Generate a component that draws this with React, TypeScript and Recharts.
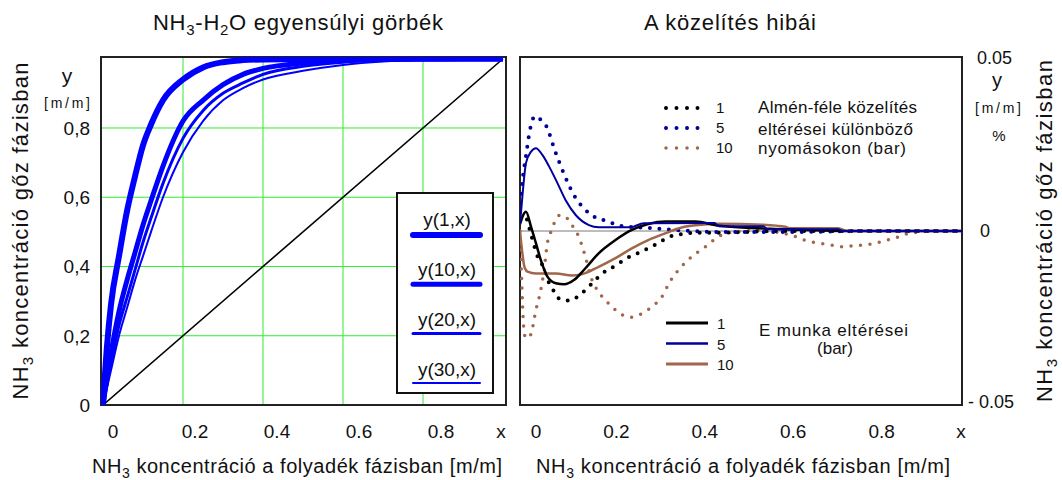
import React from 'react';
import {
  LineChart,
  Line,
  XAxis,
  YAxis,
  CartesianGrid,
  ReferenceArea,
  ReferenceLine,
} from 'recharts';

const FONT = '"Liberation Sans", Arial, Helvetica, sans-serif';
const INK = '#111';
const BLUE = '#0000ff';
const GREEN = '#2eee2e';
const NAVY = '#00009c';
const BROWN = '#a0674a';

// left chart: NH3-H2O equilibrium curves y(p, x) at 1, 10, 20, 30 bar
const eqX = [0, 0.01, 0.02, 0.04, 0.06, 0.08, 0.1, 0.12, 0.15, 0.2, 0.25, 0.3, 0.35, 0.4, 0.5, 0.6, 0.7, 0.8, 0.9, 1];
const eqP1 = [0, 0.17, 0.29, 0.43, 0.56, 0.66, 0.75, 0.81, 0.88, 0.94, 0.975, 0.99, 0.996, 0.998, 0.999, 1, 1, 1, 1, 1];
const eqP10 = [0, 0.08, 0.15, 0.27, 0.36, 0.44, 0.52, 0.59, 0.69, 0.82, 0.88, 0.925, 0.955, 0.972, 0.988, 0.995, 0.998, 0.999, 1, 1];
const eqP20 = [0, 0.06, 0.12, 0.23, 0.31, 0.39, 0.47, 0.54, 0.64, 0.77, 0.85, 0.9, 0.93, 0.955, 0.978, 0.99, 0.996, 0.998, 0.999, 1];
const eqP30 = [0, 0.05, 0.1, 0.2, 0.28, 0.36, 0.43, 0.5, 0.6, 0.73, 0.82, 0.88, 0.915, 0.94, 0.965, 0.982, 0.992, 0.997, 0.999, 1];
const diagX = [0, 1];
const diagY = [0, 1];
const eqTicks = [0, 0.2, 0.4, 0.6, 0.8];
const eqGrid = [0.2, 0.4, 0.6, 0.8];

// right chart: errors of the approximations (Almén dotted, "E munka" solid)
const almen1X = [0, 0.012, 0.025, 0.04, 0.047, 0.066, 0.079, 0.09, 0.109, 0.13, 0.144, 0.162, 0.186, 0.218, 0.242, 0.266, 0.298, 0.321, 0.339, 0.357, 0.377, 0.396, 0.437, 0.5, 0.6, 1];
const almen1Y = [0.003, 0.004, -0.001, -0.0074, -0.0088, -0.015, -0.0177, -0.0196, -0.02, -0.0189, -0.0174, -0.0152, -0.0122, -0.0098, -0.0078, -0.0064, -0.0045, -0.0028, -0.0016, -0.0011, -0.0007, -0.0005, -0.0005, -0.0003, 0, 0];

const almen5X = [0, 0.007, 0.014, 0.021, 0.034, 0.047, 0.062, 0.074, 0.081, 0.096, 0.107, 0.122, 0.141, 0.175, 0.193, 0.231, 0.276, 0.35, 0.45, 0.6, 0.8, 1];
const almen5Y = [0.008, 0.016, 0.022, 0.028, 0.033, 0.032, 0.0295, 0.025, 0.0224, 0.0175, 0.0142, 0.0103, 0.007, 0.0036, 0.003, 0.0014, 0.001, 0.0003, -0.0003, -0.0003, 0, 0];

const almen10X = [0, 0.004, 0.008, 0.012, 0.02, 0.028, 0.036, 0.042, 0.047, 0.051, 0.055, 0.058, 0.062, 0.07, 0.079, 0.091, 0.107, 0.122, 0.133, 0.141, 0.148, 0.16, 0.175, 0.193, 0.216, 0.231, 0.249, 0.276, 0.298, 0.321, 0.339, 0.362, 0.38, 0.403, 0.418, 0.433, 0.446, 0.467, 0.489, 0.512, 0.53, 0.553, 0.575, 0.594, 0.613, 0.629, 0.648, 0.667, 0.686, 0.708, 0.729, 0.751, 0.772, 0.793, 0.811, 0.83, 0.849, 0.864, 0.882, 0.905, 0.924, 1];
const almen10Y = [0, -0.015, -0.027, -0.0305, -0.0308, -0.028, -0.0227, -0.0198, -0.017, -0.0141, -0.0112, -0.0074, -0.0035, -0.0002, 0.0027, 0.0046, 0.0036, 0.0008, -0.0016, -0.0045, -0.0074, -0.0131, -0.017, -0.0198, -0.0227, -0.0241, -0.0248, -0.0237, -0.0218, -0.0189, -0.0146, -0.0107, -0.0083, -0.006, -0.0047, -0.0031, -0.0018, -0.0007, -0.0002, 0, 0.0003, 0, -0.0002, -0.0007, -0.0011, -0.0019, -0.0028, -0.0033, -0.0037, -0.0041, -0.0045, -0.0043, -0.0041, -0.0038, -0.0033, -0.0026, -0.0021, -0.0011, -0.0007, -0.0003, 0, 0];

const munka1X = [0, 0.0135, 0.025, 0.036, 0.047, 0.062, 0.081, 0.1, 0.122, 0.148, 0.178, 0.216, 0.253, 0.29, 0.33, 0.397, 0.45, 0.6, 0.75, 1];
const munka1Y = [0.002, 0.0055, 0.0012, -0.0035, -0.0083, -0.0131, -0.015, -0.0153, -0.0141, -0.0107, -0.0064, -0.0026, 0.0003, 0.002, 0.0027, 0.0027, 0.0015, 0.0005, 0, 0];

const munka5X = [0, 0.006, 0.0135, 0.025, 0.036, 0.051, 0.066, 0.085, 0.103, 0.126, 0.156, 0.178, 0.25, 0.28, 0.44, 0.45, 0.55, 0.56, 0.72, 0.73, 1];
const munka5Y = [0.002, 0.0108, 0.0195, 0.0228, 0.0238, 0.0218, 0.0185, 0.0137, 0.0089, 0.0046, 0.0017, 0.0011, 0.0011, 0.0022, 0.0023, 0.0014, 0.0014, 0.0005, 0.0005, 0, 0];

const munka10X = [0, 0.005, 0.01, 0.017, 0.036, 0.081, 0.118, 0.141, 0.178, 0.216, 0.253, 0.29, 0.328, 0.366, 0.403, 0.45, 0.55, 0.6, 0.61, 0.72, 0.74, 1];
const munka10Y = [0, -0.006, -0.0103, -0.0117, -0.0122, -0.0122, -0.0128, -0.0124, -0.0103, -0.0078, -0.005, -0.0026, -0.0007, 0.001, 0.0017, 0.0021, 0.0018, 0.0012, 0.0008, 0.0008, 0, 0];

const errTicks = [0, 0.2, 0.4, 0.6, 0.8];
const errInner = [0.2, 0.4, 0.6, 0.8];
const errYTicks = [-0.05, 0, 0.05];

const pts = (xs: number[], ys: number[]) => xs.map((x, i) => ({ x, y: ys[i] }));

const eqSeries = [
  { label: 'y(30,x)', ys: eqP30, width: 2 },
  { label: 'y(20,x)', ys: eqP20, width: 3 },
  { label: 'y(10,x)', ys: eqP10, width: 5 },
  { label: 'y(1,x)', ys: eqP1, width: 6 },
];

const almenSeries = [
  { label: '10', xs: almen10X, ys: almen10Y, color: BROWN, width: 3.5 },
  { label: '1', xs: almen1X, ys: almen1Y, color: '#000', width: 4 },
  { label: '5', xs: almen5X, ys: almen5Y, color: NAVY, width: 4 },
];
const munkaSeries = [
  { label: '10', xs: munka10X, ys: munka10Y, color: BROWN, width: 2.5 },
  { label: '1', xs: munka1X, ys: munka1Y, color: '#000', width: 2.5 },
  { label: '5', xs: munka5X, ys: munka5Y, color: NAVY, width: 2 },
];
const legendOrder = ['1', '5', '10'];
const DOTS = '0 9.5';

const txt = { fontFamily: FONT, fill: INK } as const;

export default function App() {
  return (
    <div style={{ position: 'absolute', left: 0, top: 0, width: 1062, height: 480, background: '#fff' }}>
      {/* equilibrium chart */}
      <div style={{ position: 'absolute', left: 0, top: 0 }}>
        <LineChart width={520} height={480} margin={{ top: 57, right: 14, bottom: 0, left: 0 }}>
          <XAxis xAxisId="g" dataKey="x" type="number" domain={[-0.005, 1.0075]} ticks={eqGrid} hide allowDataOverflow />
          <CartesianGrid xAxisId="g" stroke={GREEN} strokeWidth={1} />
          <XAxis
            dataKey="x"
            type="number"
            domain={[-0.005, 1.0075]}
            ticks={eqTicks}
            interval={0}
            height={75}
            allowDataOverflow
            axisLine={false}
            tickLine={false}
            tickSize={0}
            tickMargin={0}
            tick={({ x, y, payload }: any) => (
              <text x={x + 10 + payload.value * 10} y={y + 33} textAnchor="middle" fontSize={19} {...txt}>
                {payload.value === 0 ? '0' : payload.value.toFixed(1)}
              </text>
            )}
          />
          <YAxis
            type="number"
            domain={[0, 1.005]}
            ticks={eqTicks}
            interval={0}
            width={101}
            allowDataOverflow
            axisLine={false}
            tickLine={false}
            tickSize={0}
            tickMargin={11}
            tick={({ x, y, payload }: any) => (
              <text x={x} y={y} dy="0.36em" textAnchor="end" fontSize={19} {...txt}>
                {payload.value === 0 ? '0' : payload.value.toFixed(1).replace('.', ',')}
              </text>
            )}
          />
          <ReferenceArea x1={-0.005} x2={1.0075} y1={0} y2={1.005} fill="none" stroke="#222" strokeWidth={2} ifOverflow="visible" />
          <Line data={pts(diagX, diagY)} dataKey="y" type="linear" stroke="#000" strokeWidth={1.6} dot={false} isAnimationActive={false} />
          {eqSeries.map((s) => (
            <Line
              key={s.label}
              data={pts(eqX, s.ys)}
              dataKey="y"
              type="monotone"
              stroke={BLUE}
              strokeWidth={s.width}
              dot={false}
              isAnimationActive={false}
            />
          ))}
        </LineChart>
      </div>

      {/* error chart */}
      <div style={{ position: 'absolute', left: 510, top: 0 }}>
        <LineChart width={552} height={480} margin={{ top: 57, right: 0, bottom: 0, left: 10 }}>
          <XAxis xAxisId="top" orientation="top" mirror dataKey="x" type="number" domain={[0, 1]} ticks={errInner} allowDataOverflow axisLine={false} tick={false} tickSize={5} stroke="#000" />
          <XAxis xAxisId="bot" orientation="bottom" mirror dataKey="x" type="number" domain={[0, 1]} ticks={errInner} allowDataOverflow axisLine={false} tick={false} tickSize={3} stroke="#000" />
          <XAxis
            dataKey="x"
            type="number"
            domain={[0, 1]}
            ticks={errTicks}
            interval={0}
            height={75}
            allowDataOverflow
            axisLine={false}
            tickLine={false}
            tickSize={0}
            tickMargin={0}
            tick={({ x, y, payload }: any) => (
              <text x={x + (payload.value === 0 ? 16 : 8)} y={y + 33} textAnchor="middle" fontSize={19} {...txt}>
                {payload.value === 0 ? '0' : payload.value.toFixed(1)}
              </text>
            )}
          />
          <YAxis
            orientation="right"
            type="number"
            domain={[-0.05, 0.05]}
            ticks={errYTicks}
            interval={0}
            width={100}
            allowDataOverflow
            axisLine={false}
            tickLine={false}
            tickSize={0}
            tickMargin={0}
            tick={({ x, y, payload }: any) => (
              <text
                x={x + (payload.value < 0 ? 6 : payload.value === 0 ? 18 : 15)}
                y={y + (payload.value > 0 ? 1 : payload.value < 0 ? -3 : 0)}
                dy="0.36em"
                textAnchor="start"
                fontSize={18}
                {...txt}
              >
                {payload.value === 0 ? '0' : payload.value < 0 ? '- 0.05' : '0.05'}
              </text>
            )}
          />
          <ReferenceLine y={0} stroke="#7a7a7a" strokeWidth={1} />
          <ReferenceArea x1={0} x2={1} y1={-0.05} y2={0.05} fill="none" stroke="#222" strokeWidth={2} ifOverflow="visible" />
          {almenSeries.map((s) => (
            <Line
              key={'a' + s.label}
              data={pts(s.xs, s.ys)}
              dataKey="y"
              type="monotone"
              stroke={s.color}
              strokeWidth={s.width}
              strokeDasharray={DOTS}
              strokeLinecap="round"
              dot={false}
              isAnimationActive={false}
            />
          ))}
          {munkaSeries.map((s) => (
            <Line
              key={'m' + s.label}
              data={pts(s.xs, s.ys)}
              dataKey="y"
              type="monotone"
              stroke={s.color}
              strokeWidth={s.width}
              dot={false}
              isAnimationActive={false}
            />
          ))}
        </LineChart>
      </div>

      {/* titles, axis names and legends */}
      <svg width={1062} height={480} style={{ position: 'absolute', left: 0, top: 0, pointerEvents: 'none' }}>
        <text x={298} y={30} textAnchor="middle" fontSize={22} textLength={290} lengthAdjust="spacing" {...txt}>
          NH<tspan fontSize={15} dy={5}>3</tspan>
          <tspan dy={-5}>-H</tspan>
          <tspan fontSize={15} dy={5}>2</tspan>
          <tspan dy={-5}>O egyensúlyi görbék</tspan>
        </text>
        <text x={730} y={30} textAnchor="middle" fontSize={22} textLength={172} lengthAdjust="spacing" {...txt}>
          A közelítés hibái
        </text>

        <text x={297} y={473} textAnchor="middle" fontSize={20} textLength={410} lengthAdjust="spacing" {...txt}>
          NH<tspan fontSize={14} dy={5}>3</tspan>
          <tspan dy={-5}> koncentráció a folyadék fázisban [m/m]</tspan>
        </text>
        <text x={743} y={473} textAnchor="middle" fontSize={20} textLength={414} lengthAdjust="spacing" {...txt}>
          NH<tspan fontSize={14} dy={5}>3</tspan>
          <tspan dy={-5}> koncentráció a folyadék fázisban [m/m]</tspan>
        </text>

        <text transform="translate(28,231) rotate(-90)" textAnchor="middle" fontSize={22} textLength={337} lengthAdjust="spacing" {...txt}>
          NH<tspan fontSize={15} dy={5}>3</tspan>
          <tspan dy={-5}> koncentráció gőz  fázisban</tspan>
        </text>
        <text transform="translate(1052,231) rotate(-90)" textAnchor="middle" fontSize={22} textLength={342} lengthAdjust="spacing" {...txt}>
          NH<tspan fontSize={15} dy={5}>3</tspan>
          <tspan dy={-5}> koncentráció gőz  fázisban</tspan>
        </text>

        <text x={501} y={438} textAnchor="middle" fontSize={19} {...txt}>x</text>
        <text x={961} y={438} textAnchor="middle" fontSize={19} {...txt}>x</text>

        <text x={67} y={83} textAnchor="middle" fontSize={21} {...txt}>y</text>
        <text x={67} y={108} textAnchor="middle" fontSize={14} textLength={46} lengthAdjust="spacing" {...txt}>[m/m]</text>
        <text x={997} y={87} textAnchor="middle" fontSize={20} {...txt}>y</text>
        <text x={998} y={113} textAnchor="middle" fontSize={14} textLength={46} lengthAdjust="spacing" {...txt}>[m/m]</text>
        <text x={999} y={141} textAnchor="middle" fontSize={15} {...txt}>%</text>

        {/* legend box of the equilibrium chart */}
        <rect x={397} y={193} width={96} height={200} fill="#fff" stroke="#111" strokeWidth={2} />
        {[...eqSeries].reverse().map((s, i) => (
          <g key={s.label}>
            <text x={447} y={226 + i * 50} textAnchor="middle" fontSize={19} {...txt}>{s.label}</text>
            <line x1={413} x2={480} y1={235 + i * 49.3} y2={235 + i * 49.3} stroke={BLUE} strokeWidth={s.width} strokeLinecap="round" />
          </g>
        ))}

        {/* legends of the error chart */}
        {legendOrder.map((lab, i) => {
          const s = almenSeries.find((a) => a.label === lab)!;
          const y = 108 + i * 20;
          return (
            <g key={'la' + lab}>
              <line x1={666} x2={708} y1={y} y2={y} stroke={s.color} strokeWidth={s.width} strokeDasharray="0 10.5" strokeLinecap="round" />
              <text x={716} y={y + 5} fontSize={15} {...txt}>{lab}</text>
            </g>
          );
        })}
        <text x={758} y={113} fontSize={17} textLength={159} lengthAdjust="spacing" {...txt}>Almén-féle közelítés</text>
        <text x={758} y={135} fontSize={17} textLength={155} lengthAdjust="spacing" {...txt}>eltérései különböző</text>
        <text x={758} y={154} fontSize={17} textLength={148} lengthAdjust="spacing" {...txt}>nyomásokon (bar)</text>

        {legendOrder.map((lab, i) => {
          const s = munkaSeries.find((a) => a.label === lab)!;
          const y = 323 + i * 20.5;
          return (
            <g key={'lm' + lab}>
              <line x1={666} x2={708} y1={y} y2={y} stroke={s.color} strokeWidth={s.width + 0.5} />
              <text x={717} y={y + 6} fontSize={15} {...txt}>{lab}</text>
            </g>
          );
        })}
        <text x={759} y={336} fontSize={17} textLength={149} lengthAdjust="spacing" {...txt}>E munka eltérései</text>
        <text x={835} y={354} textAnchor="middle" fontSize={17} {...txt}>(bar)</text>
      </svg>
    </div>
  );
}
